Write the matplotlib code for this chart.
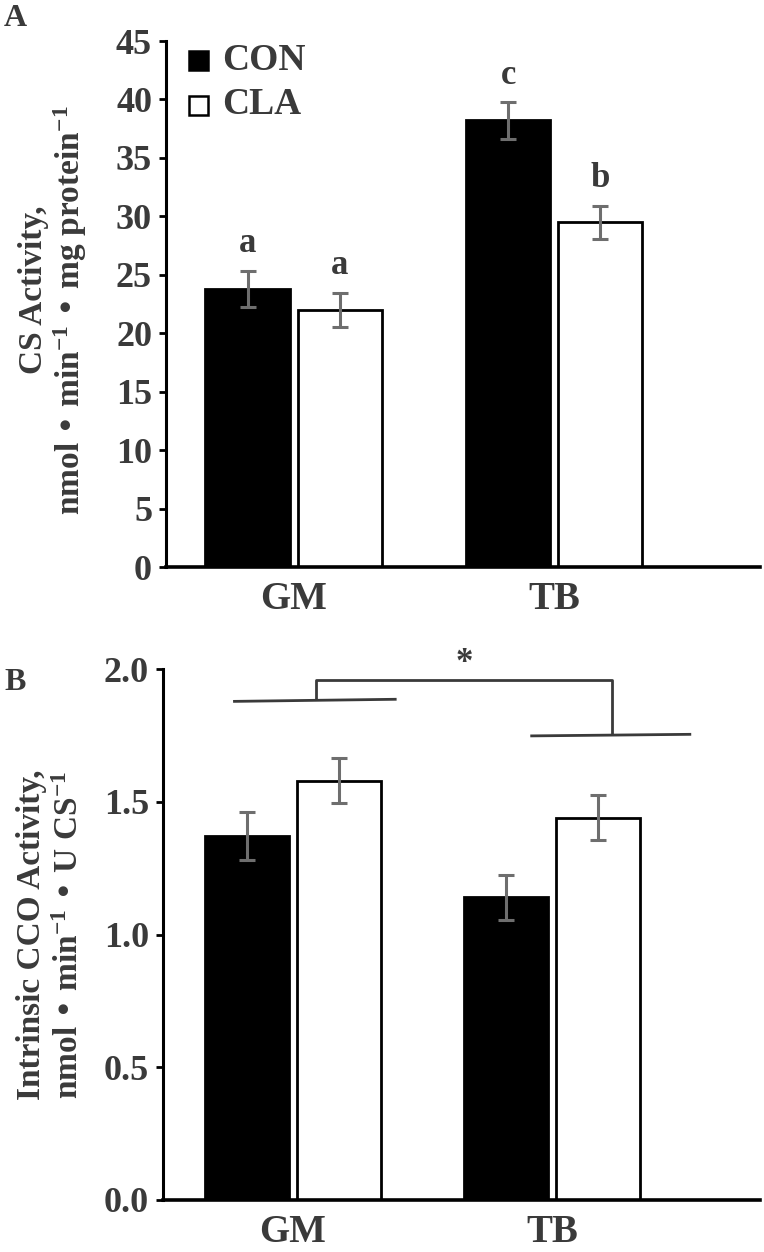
import matplotlib
matplotlib.use("Agg")
import matplotlib.pyplot as plt
import numpy as np
from matplotlib.patches import Rectangle

plt.rcParams['font.family'] = ['Liberation Serif', 'DejaVu Serif']
plt.rcParams['font.weight'] = 'bold'
plt.rcParams['mathtext.default'] = 'regular'

# ---- data ----
categories = ["GM", "TB"]
groups = ["CON", "CLA"]

cs_con = [23.8, 38.2]
cs_cla = [22.0, 29.5]
cs_con_err = [1.55, 1.55]
cs_cla_err = [1.45, 1.4]
cs_con_letters = ["a", "c"]
cs_cla_letters = ["a", "b"]
cs_yticks = [0, 5, 10, 15, 20, 25, 30, 35, 40, 45]

cco_con = [1.37, 1.14]
cco_cla = [1.58, 1.44]
cco_con_err = [0.09, 0.085]
cco_cla_err = [0.085, 0.085]
cco_yticks = [0.0, 0.5, 1.0, 1.5, 2.0]
cco_ticklabels = ["0.0", "0.5", "1.0", "1.5", "2.0"]

# significance bracket (data coords of panel B)
gm_line_x = [-0.23, 0.40]
gm_line_y = [1.878, 1.886]
tb_line_x = [0.915, 1.535]
tb_line_y = [1.748, 1.754]
bracket_x = [0.09, 1.23]
bracket_top = 1.958
star_y = 1.96

TXT = '#3a3a3a'
ERR = '#6e6e6e'

fig = plt.figure(figsize=(7.64, 12.52), dpi=100)
W, H = 764, 1252

def fx(px):
    return px / W

def fy(py):
    return 1 - py / H

def add_axes(left, right, top, bottom):
    return fig.add_axes([left / W, 1 - bottom / H, (right - left) / W, (bottom - top) / H])

axA = add_axes(166, 760, 41, 567)
axB = add_axes(163, 760, 669, 1200)

x = np.arange(len(categories))
off = 0.177
bw = 0.323

def style(ax):
    for s in ['top', 'right']:
        ax.spines[s].set_visible(False)
    ax.spines['left'].set_linewidth(2.2)
    ax.spines['bottom'].set_linewidth(2.6)
    ax.tick_params(axis='y', direction='out', length=5, width=2, labelsize=26,
                   labelcolor=TXT, pad=5)
    ax.tick_params(axis='x', length=0, labelsize=28, labelcolor=TXT, pad=10)
    for lab in ax.get_xticklabels() + ax.get_yticklabels():
        lab.set_fontweight('bold')

# ---- Panel A ----
ekw = dict(ecolor=ERR, elinewidth=2.2, capsize=6, capthick=2.2)
axA.bar(x - off, cs_con, bw, color='black', edgecolor='black', linewidth=2,
        yerr=cs_con_err, error_kw=ekw, label=groups[0])
axA.bar(x + off, cs_cla, bw, color='white', edgecolor='black', linewidth=2,
        yerr=cs_cla_err, error_kw=ekw, label=groups[1])
axA.set_ylim(0, 45)
axA.set_xlim(-0.49, 1.79)
axA.set_yticks(cs_yticks)
axA.set_xticks(x)
axA.set_xticklabels(categories)
style(axA)
for i in range(len(categories)):
    axA.text(x[i] - off, cs_con[i] + cs_con_err[i] + 0.9, cs_con_letters[i],
             ha='center', va='bottom', fontsize=25, color=TXT, fontweight='bold')
    axA.text(x[i] + off, cs_cla[i] + cs_cla_err[i] + 0.9, cs_cla_letters[i],
             ha='center', va='bottom', fontsize=25, color=TXT, fontweight='bold')

# legend (drawn manually)
leg_fc = ['black', 'white']
leg_y = [60, 105]
for g, fc, yy in zip(groups, leg_fc, leg_y):
    fig.patches.append(Rectangle((fx(189), fy(yy + 9.5)), 19 / W, 19 / H,
                                 transform=fig.transFigure, facecolor=fc,
                                 edgecolor='black', linewidth=1.8))
    fig.text(fx(222), fy(yy), g, ha='left', va='center', fontsize=27,
             color=TXT, fontweight='bold')

fig.text(fx(34), fy(290), "CS Activity,", rotation=90, ha='center', va='center',
         fontsize=24, color=TXT, fontweight='bold')
fig.text(fx(70), fy(310), "nmol • min$^{-1}$ • mg protein$^{-1}$", rotation=90,
         ha='center', va='center', fontsize=24, color=TXT, fontweight='bold')
fig.text(fx(4), fy(18), "A", ha='left', va='center', fontsize=23,
         color=TXT, fontweight='bold')

# ---- Panel B ----
axB.bar(x - off, cco_con, bw, color='black', edgecolor='black', linewidth=2,
        yerr=cco_con_err, error_kw=ekw)
axB.bar(x + off, cco_cla, bw, color='white', edgecolor='black', linewidth=2,
        yerr=cco_cla_err, error_kw=ekw)
axB.set_ylim(0, 2.0)
axB.set_xlim(-0.50, 1.80)
axB.set_yticks(cco_yticks)
axB.set_yticklabels(cco_ticklabels)
axB.set_xticks(x)
axB.set_xticklabels(categories)
style(axB)

lk = dict(color='#3a3a3a', lw=2, solid_capstyle='butt', clip_on=False)
axB.plot(gm_line_x, gm_line_y, **lk)
axB.plot(tb_line_x, tb_line_y, **lk)
gm_at = np.interp(bracket_x[0], gm_line_x, gm_line_y)
tb_at = np.interp(bracket_x[1], tb_line_x, tb_line_y)
axB.plot([bracket_x[0], bracket_x[0], bracket_x[1], bracket_x[1]],
         [gm_at, bracket_top, bracket_top, tb_at], **lk)
axB.text(np.mean(bracket_x), star_y, "*", ha='center', va='bottom', fontsize=25,
         color=TXT, fontweight='bold')

fig.text(fx(32), fy(935), "Intrinsic CCO Activity,", rotation=90, ha='center',
         va='center', fontsize=24, color=TXT, fontweight='bold')
fig.text(fx(70), fy(935), "nmol • min$^{-1}$ • U CS$^{-1}$", rotation=90,
         ha='center', va='center', fontsize=24, color=TXT, fontweight='bold')
fig.text(fx(4), fy(683), "B", ha='left', va='center', fontsize=23,
         color=TXT, fontweight='bold')

fig.savefig("out.png", dpi=100)
